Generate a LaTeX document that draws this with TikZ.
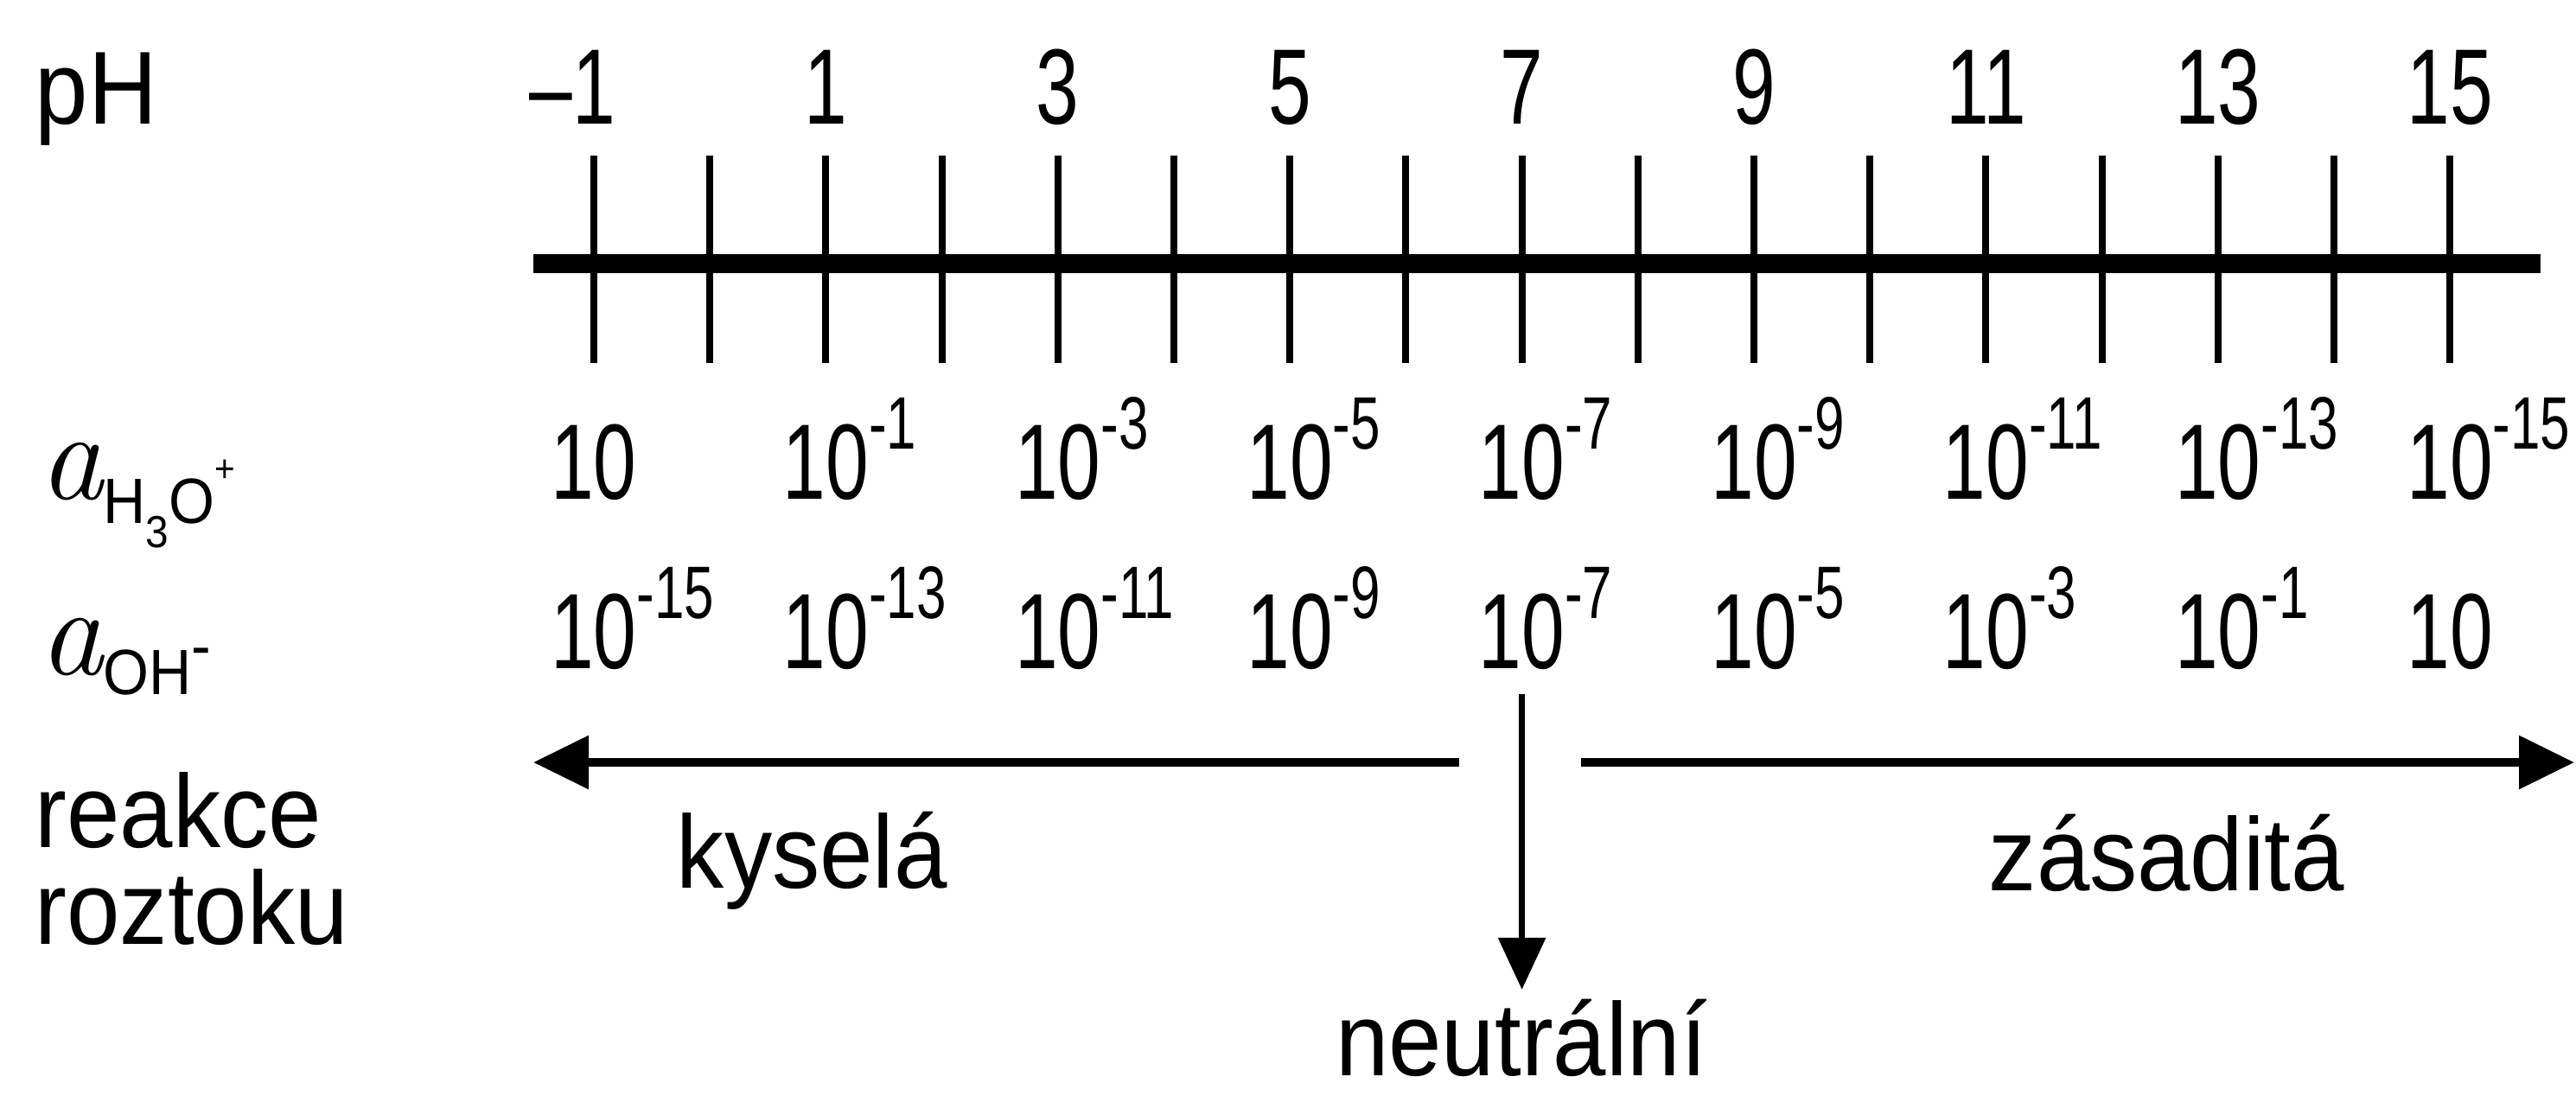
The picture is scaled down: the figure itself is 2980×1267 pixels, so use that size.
\documentclass[tikz,border=0pt]{standalone}
\usepackage{fontspec}
\setmainfont{Liberation Sans}[FakeStretch=0.92]
\newfontfamily\numfont{Liberation Sans}[FakeStretch=0.72]
\usetikzlibrary{arrows.meta}
\newcommand\expo[1]{\rlap{\raisebox{14.5pt}{\numfont\fontsize{21.5pt}{22pt}\selectfont -#1}}}
\newcommand\actA{{\fontencoding{TU}\fontfamily{lmr}\fontshape{it}\fontsize{37pt}{37pt}\selectfont a}}
\newcommand\subf{\fontsize{18.5pt}{19pt}\selectfont}
\begin{document}
\begin{tikzpicture}[x=0.25pt,y=-0.25pt,
 lbl/.style={inner sep=0pt,anchor=base west,font=\fontsize{30pt}{30pt}\selectfont},
 num/.style={inner sep=0pt,anchor=base,font=\numfont\fontsize{31pt}{31pt}\selectfont},
 axisline/.style={line width=5.5pt},
 tickline/.style={line width=2pt},
 harrow/.style={line width=2.4pt,-{Triangle[length=16pt,width=15pt]}},
 varrow/.style={line width=1.6pt,-{Triangle[length=15pt,width=13.5pt]}}]
\useasboundingbox (0,0) rectangle (2980,1267);
% axis
\coordinate (axL) at (617,305);
\coordinate (axR) at (2939,305);
\draw[axisline] (axL) -- (axR);
\foreach \i in {0,...,16}{
  \coordinate (tt\i) at ({687+134.2*\i},180);
  \coordinate (tb\i) at ({687+134.2*\i},420);
  \draw[tickline] (tt\i) -- (tb\i);
}
% labels on ticks and activity rows
\foreach \k in {0,...,8}{
  \pgfmathsetmacro\xx{687+268.4*\k}
  \pgfmathtruncatemacro\p{2*\k-1}
  \pgfmathtruncatemacro\ea{2*\k-1}
  \pgfmathtruncatemacro\eb{15-2*\k}
  \node[num] (ph\k) at (\xx,143) {\ifnum\k=0 \llap{–}1\else\p\fi};
  \node[num] (h\k) at (\xx,577) {10\ifnum\k>0 \expo{\ea}\fi};
  \node[num] (o\k) at (\xx,773) {10\ifnum\k<8 \expo{\eb}\fi};
}
% row labels
\node[lbl] (pH) at (40,143) {pH};
\node[lbl] (aH) at (45,577) {\actA\raisebox{-7pt}{\subf H\raisebox{-7pt}{\fontsize{13pt}{13pt}\selectfont 3}O\raisebox{12pt}{\fontsize{11pt}{11pt}\selectfont +}}};
\node[lbl] (aOH) at (45,780) {\actA\raisebox{-5.75pt}{\subf OH\raisebox{7.75pt}{-}}};
\node[lbl] (re1) at (40,980) {reakce};
\node[lbl] (re2) at (40,1092) {roztoku};
\node[lbl] (kys) at (782,1027) {kyselá};
\node[lbl] (zas) at (2300,1030) {zásaditá};
\node[lbl,anchor=base] (neu) at (1760,1244) {neutrální};
% arrows
\coordinate (lS) at (1688,882);
\coordinate (lE) at (617,882);
\draw[harrow] (lS) -- (lE);
\coordinate (rS) at (1829,882);
\coordinate (rE) at (2978,882);
\draw[harrow] (rS) -- (rE);
\coordinate (vS) at ([yshift=-7.5pt]o4.base);
\draw[varrow] (vS) -- ([yshift=2.5pt]vS |- neu.north);
\end{tikzpicture}
\end{document}
